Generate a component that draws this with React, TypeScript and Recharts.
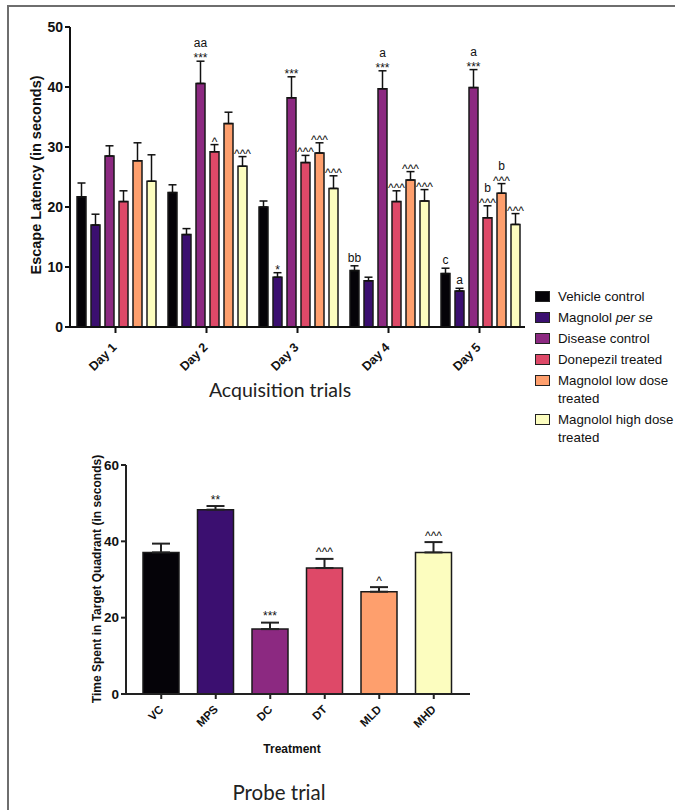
import React from 'react';
import { BarChart, Bar, XAxis, YAxis, ErrorBar, LabelList, Cell } from 'recharts';

const FONT = '"Liberation Sans", Arial, sans-serif';
const TITLE_FONT = 'Lato, "Open Sans", sans-serif';

// Acquisition trials (escape latency, s)
const days = ['Day 1', 'Day 2', 'Day 3', 'Day 4', 'Day 5'];
const vehicle = [21.7, 22.4, 20.0, 9.4, 8.9];
const vehicleErr = [2.3, 1.3, 1.0, 0.8, 0.9];
const perSe = [17.0, 15.4, 8.3, 7.7, 6.0];
const perSeErr = [1.8, 1.0, 0.75, 0.6, 0.45];
const disease = [28.5, 40.6, 38.2, 39.7, 39.9];
const diseaseErr = [1.7, 3.7, 3.5, 3.0, 3.0];
const donepezil = [20.9, 29.2, 27.4, 20.9, 18.2];
const donepezilErr = [1.8, 1.2, 1.2, 1.8, 2.0];
const lowDose = [27.7, 33.9, 29.0, 24.5, 22.3];
const lowDoseErr = [3.0, 1.9, 1.7, 1.4, 1.6];
const highDose = [24.3, 26.8, 23.1, 21.0, 17.1];
const highDoseErr = [4.4, 1.6, 2.1, 1.9, 1.8];

// significance marks, listed top line first
const vehicleMarks = [[], [], [], ['bb'], ['c']];
const perSeMarks = [[], [], ['*'], [], ['a']];
const diseaseMarks = [[], ['aa', '***'], ['***'], ['a', '***'], ['a', '***']];
const donepezilMarks = [[], ['^'], ['^^^'], ['^^^'], ['b', '^^^']];
const lowDoseMarks = [[], [], ['^^^'], ['^^^'], ['b', '^^^']];
const highDoseMarks = [[], ['^^^'], ['^^^'], ['^^^'], ['^^^']];

const acqTicks = [0, 10, 20, 30, 40, 50];

// Probe trial (time in target quadrant, s)
const groups = ['VC', 'MPS', 'DC', 'DT', 'MLD', 'MHD'];
const probeMeans = [37.1, 48.3, 17.0, 33.0, 26.8, 37.1];
const probeErr = [2.3, 0.95, 1.7, 2.4, 1.2, 2.7];
const probeMarks = [[], ['**'], ['***'], ['^^^'], ['^'], ['^^^']];
const probeTicks = [0, 20, 40, 60];

const COLORS = ['#050308', '#3b0f70', '#8c2981', '#de4968', '#fe9f6d', '#fcfdbf'];

const series = [
  { key: 'vc', name: 'Vehicle control', values: vehicle, errs: vehicleErr, marks: vehicleMarks },
  { key: 'mps', name: 'Magnolol per se', values: perSe, errs: perSeErr, marks: perSeMarks },
  { key: 'dc', name: 'Disease control', values: disease, errs: diseaseErr, marks: diseaseMarks },
  { key: 'dt', name: 'Donepezil treated', values: donepezil, errs: donepezilErr, marks: donepezilMarks },
  { key: 'mld', name: 'Magnolol low dose treated', values: lowDose, errs: lowDoseErr, marks: lowDoseMarks },
  { key: 'mhd', name: 'Magnolol high dose treated', values: highDose, errs: highDoseErr, marks: highDoseMarks },
];

const acqData = days.map((day, i) => {
  const row: any = { day };
  series.forEach((s) => {
    row[s.key] = s.values[i];
    row[s.key + 'Err'] = [0, s.errs[i]];
  });
  return row;
});

const probeData = groups.map((g, i) => ({ group: g, mean: probeMeans[i], err: [0, probeErr[i]] }));

// px per unit, from plot heights
const ACQ_PX = 300 / 50;
const PROBE_PX = 229 / 60;

const makeMarks = (marks: string[][], errs: number[], px: number, symOffset: number, letterOffset: number) =>
  (p: any) => {
    const lines = marks[p.index] || [];
    if (!lines.length) return null;
    const errTop = p.y - errs[p.index] * px;
    const cx = p.x + p.width / 2;
    const rev = [...lines].reverse();
    const base = errTop + (/[*^]/.test(rev[0]) ? symOffset : letterOffset);
    return (
      <g>
        {rev.map((t, k) => (
          <text key={k} x={cx} y={base - 15 * k} textAnchor="middle" fontSize={12} fontFamily={FONT} fill="#111">
            {t}
          </text>
        ))}
      </g>
    );
  };

const SlantTick = ({ x, y, payload, size, dx, dy }: any) => (
  <text
    x={x + dx}
    y={y + dy}
    transform={`rotate(-45 ${x + dx} ${y + dy})`}
    textAnchor="end"
    fontSize={size}
    fontWeight="bold"
    fontFamily={FONT}
    fill="#111"
  >
    {payload.value}
  </text>
);

const legendRow = (s: any, i: number) => (
  <div key={s.key} style={{ display: 'flex', alignItems: 'flex-start' }}>
    <div
      style={{
        width: 13,
        height: 9,
        marginTop: 3,
        marginRight: 8,
        background: COLORS[i],
        border: '1.5px solid #222',
        flexShrink: 0,
      }}
    />
    <div>
      {s.key === 'mps' ? (
        <span>
          Magnolol <i>per se</i>
        </span>
      ) : s.key === 'mld' ? (
        <span>
          Magnolol low dose
          <br />
          treated
        </span>
      ) : s.key === 'mhd' ? (
        <span>
          Magnolol high dose
          <br />
          treated
        </span>
      ) : (
        s.name
      )}
    </div>
  </div>
);

export default function App() {
  return (
    <div
      style={{
        position: 'absolute',
        left: 0,
        top: 0,
        width: 675,
        height: 810,
        overflow: 'hidden',
        background: '#fff',
      }}
    >
      <div
        style={{
          position: 'absolute',
          left: 7,
          top: 5,
          width: 720,
          height: 900,
          border: '2px solid #6e6e6e',
        }}
      />

      <div style={{ position: 'absolute', left: 0, top: 0 }}>
        <BarChart
          width={675}
          height={400}
          data={acqData}
          margin={{ top: 27, right: 150, left: 0, bottom: 0 }}
          barCategoryGap={7}
          barGap={5}
        >
          <XAxis
            dataKey="day"
            height={73}
            interval={0}
            tick={<SlantTick size={12.5} dx={2} dy={13} />}
            axisLine={{ stroke: '#111', strokeWidth: 2 }}
            tickLine={{ stroke: '#111', strokeWidth: 2 }}
            tickSize={6}
          />
          <YAxis
            width={70}
            domain={[0, 50]}
            ticks={acqTicks}
            interval={0}
            tick={{ fontSize: 14, fontWeight: 'bold', fontFamily: FONT, fill: '#111' }}
            axisLine={{ stroke: '#111', strokeWidth: 2 }}
            tickLine={{ stroke: '#111', strokeWidth: 2 }}
            tickSize={5}
          />
          {series.map((s, i) => (
            <Bar key={s.key} dataKey={s.key} fill={COLORS[i]} stroke="#1a1a1a" strokeWidth={1.5} isAnimationActive={false}>
              <ErrorBar dataKey={s.key + 'Err'} width={4} stroke="#111" strokeWidth={1.5} direction="y" />
              <LabelList dataKey={s.key} content={makeMarks(s.marks, s.errs, ACQ_PX, 1, -4)} />
            </Bar>
          ))}
        </BarChart>
      </div>

      <div style={{ position: 'absolute', left: 0, top: 440 }}>
        <BarChart width={675} height={290} data={probeData} margin={{ top: 25, right: 205, left: 0, bottom: 0 }}>
          <XAxis
            dataKey="group"
            height={36}
            interval={0}
            padding={{ left: 8, right: 9 }}
            tick={<SlantTick size={11.5} dx={3} dy={9} />}
            axisLine={{ stroke: '#222', strokeWidth: 2 }}
            tickLine={{ stroke: '#222', strokeWidth: 2 }}
            tickSize={5}
          />
          <YAxis
            width={126}
            domain={[0, 60]}
            ticks={probeTicks}
            interval={0}
            tick={{ fontSize: 13.5, fontWeight: 'bold', fontFamily: FONT, fill: '#111' }}
            axisLine={{ stroke: '#222', strokeWidth: 2 }}
            tickLine={{ stroke: '#222', strokeWidth: 2 }}
            tickSize={5}
          />
          <Bar dataKey="mean" barSize={36} stroke="#1a1a1a" strokeWidth={1.5} isAnimationActive={false}>
            {probeData.map((d, i) => (
              <Cell key={d.group} fill={COLORS[i]} />
            ))}
            <ErrorBar dataKey="err" width={9} stroke="#222" strokeWidth={2} direction="y" />
            <LabelList dataKey="mean" content={makeMarks(probeMarks, probeErr, PROBE_PX, -2.5, -2.5)} />
          </Bar>
        </BarChart>
      </div>

      <svg width={675} height={810} style={{ position: 'absolute', left: 0, top: 0, pointerEvents: 'none' }}>
        <text
          x={40.5}
          y={175}
          transform="rotate(-90 40.5 175)"
          textAnchor="middle"
          fontSize={14.5}
          fontWeight="bold"
          fontFamily={FONT}
          fill="#111"
        >
          Escape Latency (in seconds)
        </text>
        <text x={280} y={397} textAnchor="middle" fontSize={19.5} fontFamily={TITLE_FONT} fill="#222">
          Acquisition trials
        </text>
        <text
          x={101}
          y={579}
          transform="rotate(-90 101 579)"
          textAnchor="middle"
          fontSize={12}
          fontWeight="bold"
          fontFamily={FONT}
          fill="#111"
        >
          Time Spent in Target Quadrant (in seconds)
        </text>
        <text x={292} y={753} textAnchor="middle" fontSize={12} fontWeight="bold" fontFamily={FONT} fill="#111">
          Treatment
        </text>
        <text x={279} y={800} textAnchor="middle" fontSize={20.5} fontFamily={TITLE_FONT} fill="#222">
          Probe trial
        </text>
      </svg>

      <div
        style={{
          position: 'absolute',
          left: 535,
          top: 288,
          display: 'flex',
          flexDirection: 'column',
          gap: 3,
          fontFamily: FONT,
          fontSize: 13.3,
          lineHeight: '18px',
          color: '#111',
          whiteSpace: 'nowrap',
        }}
      >
        {series.map(legendRow)}
      </div>
    </div>
  );
}
